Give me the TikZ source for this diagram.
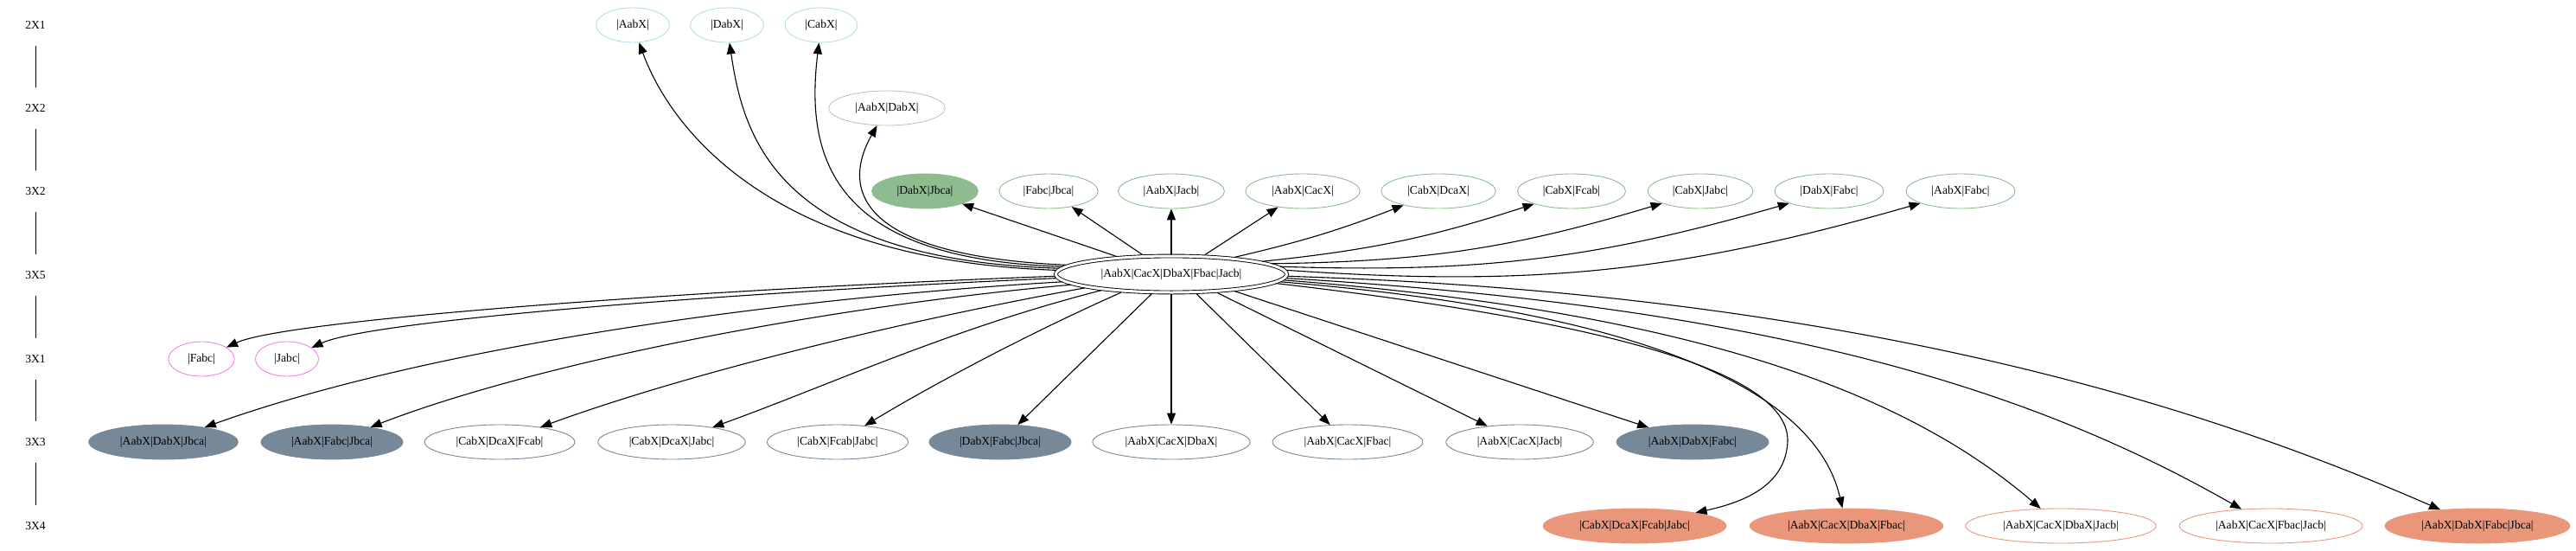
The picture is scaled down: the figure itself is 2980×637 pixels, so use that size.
\documentclass[tikz,border=0pt]{standalone}
\usepackage{fontspec}
\setmainfont{Liberation Serif}
\usetikzlibrary{arrows.meta,shapes.geometric}
\definecolor{cA}{HTML}{B0E0E6}
\definecolor{cB}{HTML}{CDC0B0}
\definecolor{cC}{HTML}{8FBC8F}
\definecolor{cD}{HTML}{EE82EE}
\definecolor{cE}{HTML}{778899}
\definecolor{cF}{HTML}{E9967A}
\tikzset{
  gv/.style={ellipse, draw, line width=0.9pt, inner xsep=11pt, inner ysep=2pt, minimum height=40pt},
  rA/.style={gv, draw=cA},
  rB/.style={gv, draw=cB},
  rC/.style={gv, draw=cC},
  rCf/.style={gv, draw=cC, fill=cC},
  rD/.style={gv, draw=cD},
  rE/.style={gv, draw=cE},
  rEf/.style={gv, draw=cE, fill=cE},
  rF/.style={gv, draw=cF},
  rFf/.style={gv, draw=cF, fill=cF},
  hub/.style={ellipse, draw, line width=0.9pt, double, double distance=3pt, inner xsep=13pt, inner ysep=2pt, minimum height=42pt, outer sep=2.4pt},
  edge/.style={line width=1.1pt, -{Triangle[length=13pt,width=10pt]}},
  rk/.style={inner sep=0pt, minimum height=48pt, minimum width=30pt},
  rkline/.style={line width=0.9pt}
}
\begin{document}
\begin{tikzpicture}[x=1pt,y=-1pt,font=\fontsize{13.6}{16}\selectfont]
\useasboundingbox (0,0) rectangle (2980,637);
% rank labels
\node[rk] (r1) at (41,29) {2X1};
\node[rk] (r2) at (41,125) {2X2};
\node[rk] (r3) at (41,221) {3X2};
\node[rk] (r4) at (41,318) {3X5};
\node[rk] (r5) at (41,415) {3X1};
\node[rk] (r6) at (41,511) {3X3};
\node[rk] (r7) at (41,608) {3X4};
\draw[rkline] (r1) -- (r2);
\draw[rkline] (r2) -- (r3);
\draw[rkline] (r3) -- (r4);
\draw[rkline] (r4) -- (r5);
\draw[rkline] (r5) -- (r6);
\draw[rkline] (r6) -- (r7);
% 2X1
\node[rA] (a1) at (732,29) {|AabX|};
\node[rA] (a2) at (841,29) {|DabX|};
\node[rA] (a3) at (950,29) {|CabX|};
% 2X2
\node[rB] (b1) at (1026,125) {|AabX|DabX|};
% 3X2
\node[rCf] (c1) at (1070,221) {|DabX|Jbca|};
\node[rC] (c2) at (1213,221) {|Fabc|Jbca|};
\node[rC] (c3) at (1355,221) {|AabX|Jacb|};
\node[rC] (c4) at (1507,221) {|AabX|CacX|};
\node[rC] (c5) at (1664,221) {|CabX|DcaX|};
\node[rC] (c6) at (1818,221) {|CabX|Fcab|};
\node[rC] (c7) at (1967,221) {|CabX|Jabc|};
\node[rC] (c8) at (2116,221) {|DabX|Fabc|};
\node[rC] (c9) at (2268,221) {|AabX|Fabc|};
% 3X5
\node[hub] (C) at (1355,317) {|AabX|CacX|DbaX|Fbac|Jacb|};
% 3X1
\node[rD] (d1) at (233,415) {|Fabc|};
\node[rD] (d2) at (332,415) {|Jabc|};
% 3X3
\node[rEf] (e1) at (189,511) {|AabX|DabX|Jbca|};
\node[rEf] (e2) at (384,511) {|AabX|Fabc|Jbca|};
\node[rE] (e3) at (578,511) {|CabX|DcaX|Fcab|};
\node[rE] (e4) at (777,511) {|CabX|DcaX|Jabc|};
\node[rE] (e5) at (969,511) {|CabX|Fcab|Jabc|};
\node[rEf] (e6) at (1157,511) {|DabX|Fabc|Jbca|};
\node[rE] (e7) at (1355,511) {|AabX|CacX|DbaX|};
\node[rE] (e8) at (1559,511) {|AabX|CacX|Fbac|};
\node[rE] (e9) at (1758,511) {|AabX|CacX|Jacb|};
\node[rEf] (e10) at (1958,511) {|AabX|DabX|Fabc|};
% 3X4
\node[rFf] (f1) at (1891,608) {|CabX|DcaX|Fcab|Jabc|};
\node[rFf] (f2) at (2136,608) {|AabX|CacX|DbaX|Fbac|};
\node[rF] (f3) at (2384,608) {|AabX|CacX|DbaX|Jacb|};
\node[rF] (f4) at (2627,608) {|AabX|CacX|Fbac|Jacb|};
\node[rFf] (f5) at (2866,608) {|AabX|DabX|Fabc|Jbca|};
% edges up
\draw[edge] (C.178) .. controls (860,300) and (765,120) .. (a1);
\draw[edge] (C.177) .. controls (900,300) and (860,160) .. (a2);
\draw[edge] (C.176) .. controls (970,300) and (930,190) .. (a3);
\draw[edge] (C.175) .. controls (985,295) and (975,215) .. (b1);
\draw[edge] (C.162) -- (c1);
\draw[edge] (C.146) -- (c2);
\draw[edge] (C.north) -- (c3);
\draw[edge] (C.30) -- (c4);
\draw[edge] (C.15) to[bend right=4] (c5);
\draw[edge] (C.8) to[bend right=6] (c6);
\draw[edge] (C.6) to[bend right=8] (c7);
\draw[edge] (C.4.5) to[bend right=9] (c8);
\draw[edge] (C.2.5) to[bend right=10] (c9);
% edges down
\draw[edge] (C.181) .. controls (800,335) and (330,370) .. (d1);
\draw[edge] (C.182) .. controls (850,338) and (430,370) .. (d2);
\draw[edge] (C.184) .. controls (900,345) and (500,400) .. (e1);
\draw[edge] (C.186) .. controls (950,355) and (620,420) .. (e2);
\draw[edge] (C.189) .. controls (1050,370) and (800,430) .. (e3);
\draw[edge] (C.193) .. controls (1100,380) and (960,445) .. (e4);
\draw[edge] (C.200) .. controls (1180,390) and (1070,450) .. (e5);
\draw[edge] (C.225) -- (e6);
\draw[edge] (C.south) -- (e7);
\draw[edge] (C.322) -- (e8);
\draw[edge] (C.338) -- (e9);
\draw[edge] (C.345) -- (e10);
\draw[edge] (C.355) .. controls (1800,365) and (2070,420) .. (2068,510) .. controls (2066,560) and (2020,580) .. (f1);
\draw[edge] (C.356) .. controls (1900,360) and (2100,450) .. (f2);
\draw[edge] (C.357) .. controls (1950,360) and (2200,450) .. (f3);
\draw[edge] (C.358) .. controls (2050,355) and (2350,450) .. (f4);
\draw[edge] (C.359) .. controls (2150,340) and (2550,470) .. (f5);
\end{tikzpicture}
\end{document}
